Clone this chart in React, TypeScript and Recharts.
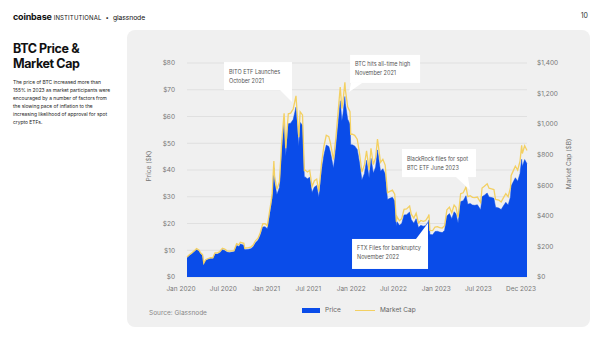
import React from "react";
import {
  Area,
  CartesianGrid,
  ComposedChart,
  Line,
  ReferenceDot,
  XAxis,
  YAxis,
} from "recharts";

// dates of the samples (roughly every 10 days, plus the big turning points)
const dates = [
  // 2020
  "2020-01-01", "2020-01-11", "2020-01-21", "2020-02-01", "2020-02-11", "2020-02-21",
  "2020-03-01", "2020-03-08", "2020-03-13", "2020-03-21", "2020-04-01", "2020-04-11",
  "2020-04-21", "2020-04-30", "2020-05-11", "2020-05-21", "2020-06-01", "2020-06-11",
  "2020-06-21", "2020-07-01", "2020-07-11", "2020-07-21", "2020-08-01", "2020-08-11",
  "2020-08-17", "2020-09-01", "2020-09-05", "2020-09-21", "2020-10-01", "2020-10-11",
  "2020-10-21", "2020-11-01", "2020-11-11", "2020-11-21", "2020-12-01", "2020-12-11",
  "2020-12-21", "2020-12-27",
  // 2021
  "2021-01-01", "2021-01-08", "2021-01-11", "2021-01-21", "2021-02-01", "2021-02-11",
  "2021-02-21", "2021-02-28", "2021-03-11", "2021-03-21", "2021-04-01", "2021-04-13",
  "2021-04-25", "2021-05-01", "2021-05-11", "2021-05-19", "2021-05-21", "2021-06-01",
  "2021-06-11", "2021-06-21", "2021-07-01", "2021-07-11", "2021-07-20", "2021-08-01",
  "2021-08-11", "2021-08-21", "2021-09-01", "2021-09-07", "2021-09-11", "2021-09-21",
  "2021-10-01", "2021-10-11", "2021-10-20", "2021-10-27", "2021-11-01", "2021-11-09",
  "2021-11-11", "2021-11-21", "2021-12-01", "2021-12-04", "2021-12-11", "2021-12-21",
  // 2022
  "2022-01-01", "2022-01-11", "2022-01-21", "2022-02-01", "2022-02-10", "2022-02-21",
  "2022-03-01", "2022-03-11", "2022-03-21", "2022-03-29", "2022-04-11", "2022-04-21",
  "2022-05-01", "2022-05-11", "2022-05-21", "2022-06-01", "2022-06-11", "2022-06-18",
  "2022-06-21", "2022-07-01", "2022-07-11", "2022-07-21", "2022-08-01", "2022-08-14",
  "2022-08-21", "2022-09-01", "2022-09-11", "2022-09-21", "2022-10-01", "2022-10-11",
  "2022-10-21", "2022-11-01", "2022-11-05", "2022-11-09", "2022-11-21", "2022-12-01",
  "2022-12-11", "2022-12-21",
  // 2023
  "2023-01-01", "2023-01-11", "2023-01-21", "2023-02-01", "2023-02-11", "2023-02-21",
  "2023-03-01", "2023-03-10", "2023-03-21", "2023-04-01", "2023-04-13", "2023-04-21",
  "2023-05-01", "2023-05-11", "2023-05-21", "2023-06-01", "2023-06-15", "2023-06-21",
  "2023-07-01", "2023-07-13", "2023-07-21", "2023-08-01", "2023-08-11", "2023-08-18",
  "2023-09-01", "2023-09-11", "2023-09-21", "2023-10-01", "2023-10-11", "2023-10-21",
  "2023-10-24", "2023-11-01", "2023-11-11", "2023-11-21", "2023-12-01", "2023-12-08",
  "2023-12-11", "2023-12-21", "2023-12-31",
];

// BTC price, $K
const price = [
  7.2, 8.0, 8.6, 9.4, 10.2, 9.7, 8.5, 8.0, 4.9, 6.2, 6.6, 6.9, 6.9, 8.6, 8.6, 9.1, 10.2, 9.9,
  9.3, 9.2, 9.3, 9.4, 11.8, 11.4, 12.3, 11.9, 10.2, 10.4, 10.6, 11.3, 12.8, 13.7, 15.7, 18.7,
  18.8, 18.0, 23.4, 26.5,
  29.4, 40.8, 35.6, 30.8, 33.5, 47.9, 57.5, 45.2, 57.3, 57.5, 58.9, 63.5, 49.0, 57.8, 56.7,
  37.0, 37.5, 36.7, 37.3, 31.6, 33.6, 34.2, 29.8, 39.9, 45.6, 49.3, 48.8, 46.9, 45.2, 40.7,
  48.1, 57.4, 65.9, 58.4, 61.0, 67.5, 64.9, 59.0, 57.2, 49.4, 49.4, 49.0,
  47.7, 42.7, 36.3, 38.7, 43.6, 37.0, 44.4, 38.8, 41.1, 47.5, 39.5, 40.5, 38.5, 29.0, 29.4,
  29.8, 28.4, 19.0, 20.7, 19.3, 20.0, 23.2, 23.3, 24.3, 21.5, 20.1, 21.8, 18.5, 19.3, 19.0,
  19.2, 20.5, 21.3, 15.9, 15.8, 17.0, 17.1, 16.8,
  16.6, 17.4, 22.8, 23.7, 21.8, 24.4, 23.6, 20.2, 28.2, 28.5, 30.4, 27.2, 27.5, 26.9, 26.8,
  27.0, 25.1, 30.0, 30.6, 31.4, 29.9, 29.7, 29.4, 26.1, 25.8, 25.2, 26.6, 27.9, 26.9, 29.9,
  34.0, 35.4, 37.1, 35.8, 38.7, 44.0, 41.3, 43.9, 42.3,
];

// BTC market cap, $B
const marketCap = [
  131, 146, 157, 171, 186, 177, 155, 146, 90, 113, 121, 126, 126, 158, 158, 167, 188, 182,
  171, 169, 171, 173, 218, 210, 227, 220, 188, 192, 196, 209, 237, 254, 291, 347,
  349, 334, 435, 492,
  547, 759, 662, 573, 624, 892, 1071, 842, 1068, 1072, 1099, 1185, 915, 1080, 1060,
  692, 701, 687, 698, 592, 630, 641, 559, 749, 857, 927, 918, 883, 851, 767,
  906, 1082, 1243, 1102, 1151, 1274, 1226, 1114, 1081, 934, 934, 927,
  902, 808, 687, 733, 826, 701, 842, 736, 780, 902, 750, 770, 732, 552, 560,
  568, 541, 362, 395, 368, 382, 443, 445, 464, 411, 385, 417, 354, 370, 364,
  368, 393, 409, 305, 303, 327, 329, 323,
  320, 335, 439, 457, 420, 471, 456, 390, 545, 551, 588, 526, 532, 521, 519,
  523, 487, 582, 594, 610, 581, 577, 572, 508, 503, 491, 519, 545, 525, 584,
  664, 691, 725, 700, 757, 861, 808, 859, 828,
];

const xTicks = [
  "2020-01-01", "2020-07-01", "2021-01-01", "2021-07-01", "2022-01-01",
  "2022-07-01", "2023-01-01", "2023-07-01", "2023-12-31",
];
const xTickLabels = [
  "Jan 2020", "Jul 2020", "Jan 2021", "Jul 2021", "Jan 2022",
  "Jul 2022", "Jan 2023", "Jul 2023", "Dec 2023",
];
const priceTicks = [0, 10, 20, 30, 40, 50, 60, 70, 80];
const capTicks = [0, 200, 400, 600, 800, 1000, 1200, 1400];

// callouts: where the pointer lands (date, price level) and the text box
const notes = [
  { date: "2021-03-27", level: 65.4, lines: ["BITO ETF Launches", "October 2021"], box: [-68, -40, 68, 28], ptr: [[-12, -12], [0, -12]] },
  { date: "2021-11-27", level: 69.2, lines: ["BTC hits all-time high", "November 2021"], box: [1, -37, 70, 28], ptr: [[2, -9], [13, -9]] },
  { date: "2023-04-30", level: 32.5, lines: ["BlackRock files for spot", "BTC ETF June 2023"], box: [-68, -41, 74, 28], ptr: [[-14, -13], [-2, -13]] },
  { date: "2022-11-01", level: 20.2, lines: ["FTX Files for bankruptcy", "November 2022"], box: [-76, 16, 76, 30], ptr: [[-12, 16], [0, 16]] },
];

const BLUE = "#0a4ce9";
const GOLD = "#f3d062";
const FONT = "Inter, 'Noto Sans', sans-serif";

const data = dates.map((d, i) => ({
  t: Date.parse(d),
  price: price[i],
  cap: marketCap[i],
}));

const tickTimes = xTicks.map((d) => Date.parse(d));

function XTick(props: any) {
  const { x, y, payload } = props;
  const i = tickTimes.indexOf(payload.value);
  return (
    <text x={x - 6} y={y + 6} textAnchor="middle" fontSize={6.5} fill="#777" fontFamily={FONT}>
      {xTickLabels[i]}
    </text>
  );
}

function calloutShape(note: (typeof notes)[number]) {
  return (props: any) => {
    const { cx, cy } = props;
    const [bx, by, bw, bh] = note.box;
    const pts = [...note.ptr, [0, 0]].map(([a, b]) => `${cx + a},${cy + b}`).join(" ");
    return (
      <g>
        <polygon points={pts} fill="#fff" />
        <rect x={cx + bx} y={cy + by} width={bw} height={bh} fill="#fff" />
        {note.lines.map((l, k) => (
          <text
            key={l}
            x={cx + bx + 5}
            y={cy + by + 11.5 + k * 9}
            fontSize={5.5}
            fill="#555"
            fontFamily={FONT}
          >
            {l}
          </text>
        ))}
      </g>
    );
  };
}

const titleStyle: React.CSSProperties = {
  position: "absolute",
  left: 13,
  fontSize: 12.5,
  lineHeight: "15.2px",
  fontWeight: 700,
  color: "#111",
  letterSpacing: -0.4,
  whiteSpace: "nowrap",
};

export default function App() {
  return (
    <div
      style={{
        position: "relative",
        width: 600,
        height: 338,
        background: "#fff",
        fontFamily: FONT,
        overflow: "hidden",
      }}
    >
      <style>{"body{margin:0}"}</style>

      {/* header */}
      <div style={{ position: "absolute", left: 13, top: 12, fontSize: 9, lineHeight: "10px", color: "#111", whiteSpace: "nowrap" }}>
        <span style={{ fontWeight: 700, letterSpacing: -0.2 }}>coinbase</span>
        <span style={{ fontSize: 6, letterSpacing: 0.15, marginLeft: 2 }}>INSTITUTIONAL</span>
        <span style={{ fontSize: 6, margin: "0 4px" }}>•</span>
        <span style={{ fontSize: 6.8, letterSpacing: -0.1 }}>glassnode</span>
      </div>
      <div style={{ position: "absolute", right: 12, top: 11, fontSize: 7, color: "#333" }}>10</div>

      {/* title and text */}
      <div style={{ ...titleStyle, top: 41 }}>BTC Price &amp;</div>
      <div style={{ ...titleStyle, top: 56.2 }}>Market Cap</div>
      <div style={{ position: "absolute", left: 13, top: 78, fontSize: 4.9, lineHeight: "8px", color: "#222", whiteSpace: "nowrap" }}>
        The price of BTC increased more than
        <br />
        155% in 2023 as market participants were
        <br />
        encouraged by a number of factors from
        <br />
        the slowing pace of inflation to the
        <br />
        increasing likelihood of approval for spot
        <br />
        crypto ETFs.
      </div>

      {/* panel */}
      <div style={{ position: "absolute", left: 127, top: 30, width: 463, height: 297, background: "#f0f0f0", borderRadius: 8 }} />

      <div style={{ position: "absolute", left: 127, top: 30 }}>
        <ComposedChart
          width={463}
          height={297}
          data={data}
          margin={{ top: 33, right: 0, bottom: 30, left: 0 }}
        >
          <CartesianGrid yAxisId="left" vertical={false} stroke="#dcdcdc" strokeWidth={0.8} />
          <XAxis
            dataKey="t"
            type="number"
            scale="time"
            domain={[tickTimes[0], tickTimes[tickTimes.length - 1]]}
            ticks={tickTimes}
            tick={<XTick />}
            axisLine={false}
            tickLine={false}
            height={20}
            interval={0}
          />
          <YAxis
            yAxisId="left"
            domain={[0, 80]}
            ticks={priceTicks}
            tickFormatter={(v) => `$${v}`}
            tick={{ fontSize: 6.5, fill: "#777", fontFamily: FONT }}
            axisLine={false}
            tickLine={false}
            tickMargin={6}
            width={60}
            interval={0}
          />
          <YAxis
            yAxisId="right"
            orientation="right"
            domain={[0, 1400]}
            ticks={capTicks}
            tickFormatter={(v) => `$${v.toLocaleString("en-US")}`}
            tick={{ fontSize: 6.5, fill: "#777", fontFamily: FONT }}
            axisLine={false}
            tickLine={false}
            tickMargin={4}
            width={63}
            interval={0}
          />
          <Area
            yAxisId="left"
            dataKey="price"
            type="linear"
            stroke={BLUE}
            strokeWidth={0.5}
            fill={BLUE}
            fillOpacity={1}
            isAnimationActive={false}
          />
          <Line
            yAxisId="right"
            dataKey="cap"
            type="linear"
            stroke={GOLD}
            strokeWidth={1.3}
            dot={false}
            isAnimationActive={false}
          />
          {notes.map((n) => (
            <ReferenceDot
              key={n.date}
              yAxisId="left"
              x={Date.parse(n.date)}
              y={n.level}
              r={0}
              ifOverflow="visible"
              shape={calloutShape(n)}
            />
          ))}
        </ComposedChart>
      </div>

      {/* axis titles */}
      <div style={{ position: "absolute", left: 149, top: 166, fontSize: 6.5, color: "#777", whiteSpace: "nowrap", transform: "translate(-50%, -50%) rotate(-90deg)" }}>
        Price ($K)
      </div>
      <div style={{ position: "absolute", left: 569, top: 164, fontSize: 6.5, color: "#777", whiteSpace: "nowrap", transform: "translate(-50%, -50%) rotate(-90deg)" }}>
        Market Cap ($B)
      </div>

      {/* source + legend */}
      <div style={{ position: "absolute", left: 149, top: 309, fontSize: 6.5, color: "#888", whiteSpace: "nowrap" }}>
        Source: Glassnode
      </div>
      <div style={{ position: "absolute", left: 302, top: 308, width: 18, height: 4.5, background: BLUE }} />
      <div style={{ position: "absolute", left: 325, top: 306, fontSize: 6.5, color: "#666" }}>Price</div>
      <div style={{ position: "absolute", left: 355, top: 309.5, width: 20, height: 1.5, background: GOLD }} />
      <div style={{ position: "absolute", left: 380, top: 306, fontSize: 6.5, color: "#666", whiteSpace: "nowrap" }}>Market Cap</div>
    </div>
  );
}
